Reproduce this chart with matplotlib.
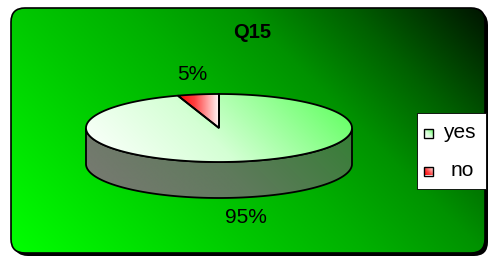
import numpy as np
import matplotlib.pyplot as plt
from matplotlib.patches import Polygon, FancyBboxPatch, Rectangle
from matplotlib.colors import LinearSegmentedColormap

plt.rcParams['font.family'] = ['Liberation Sans', 'DejaVu Sans']

# data
labels = ['yes', 'no']
values = [95, 5]
title = 'Q15'

# colour ramps
top_colors = [[(0, '#ffffff'), (0.45, '#d4ffd4'), (1, '#58ff58')],
              [(0, '#ff0000'), (0.4, '#ff4040'), (1, '#ffffff')]]
side_colors = [(0, '#7a7a74'), (0.5, '#5f7a5c'), (1, '#357f35')]
bg_colors = [(0, '#00ff00'), (0.34, '#00c800'), (0.5, '#00b000'),
             (0.66, '#009200'), (0.81, '#006000'), (1, '#001600')]

W, H = 489, 262
fig = plt.figure(figsize=(W / 100, H / 100), dpi=100)
ax = fig.add_axes([0, 0, 1, 1])
ax.axis('off')


def grad_fill(patch, x0, x1, y0, y1, colors, z, diag=True):
    # 45 degree gradient in pixel space, bottom-left -> top-right
    xx, yy = np.meshgrid(np.linspace(x0, x1, 300), np.linspace(y0, y1, 300))
    if diag:
        t = ((xx - x0) + (y1 - yy)) / ((x1 - x0) + (y1 - y0))
    else:
        t = (xx - x0) / (x1 - x0)
    cmap = LinearSegmentedColormap.from_list('g', colors)
    im = ax.imshow(t, cmap=cmap, extent=(x0, x1, y1, y0), origin='upper',
                   vmin=0, vmax=1, aspect='auto', interpolation='bilinear',
                   zorder=z)
    im.set_clip_path(patch)


# background with shadow
shadow = FancyBboxPatch((14, 11), 474, 245, boxstyle='round,pad=0,rounding_size=14',
                        fc='black', ec='none', zorder=0)
ax.add_patch(shadow)
bg = FancyBboxPatch((11, 8), 474, 245, boxstyle='round,pad=0,rounding_size=14',
                    fc='none', ec='black', lw=1.2, zorder=2)
ax.add_patch(bg)
grad_fill(bg, 11, 485, 8, 253, bg_colors, 1)

ax.text(252, 33, title, ha='center', va='center', fontsize=14.5, fontweight='bold')

# 3d pie
cx, cy, rx, ry, depth = 219, 128, 133, 34, 36
total = float(sum(values))
start = 90.0
slices = []
for v in values:
    sweep = 360.0 * v / total
    slices.append((start - sweep, start))
    start -= sweep

# side walls (front half only)
for i, (a0, a1) in enumerate(slices):
    th = np.radians(np.linspace(a0, a1, 300))
    front = th[np.sin(th) <= 0]
    if len(front) < 2:
        continue
    xs = cx + rx * np.cos(front)
    ys = cy - ry * np.sin(front)
    pts = np.vstack([np.column_stack([xs, ys]),
                     np.column_stack([xs[::-1], ys[::-1] + depth])])
    side = Polygon(pts, closed=True, fc='none', ec='black', lw=1.3, zorder=4)
    ax.add_patch(side)
    grad_fill(side, cx - rx, cx + rx, cy, cy + ry + depth, side_colors, 3)

# top faces
for i, (a0, a1) in enumerate(slices):
    th = np.radians(np.linspace(a0, a1, 300))
    pts = np.vstack([[cx, cy], np.column_stack([cx + rx * np.cos(th), cy - ry * np.sin(th)])])
    face = Polygon(pts, closed=True, fc='none', ec='black', lw=1.3, zorder=6)
    ax.add_patch(face)
    xs, ys = pts[:, 0], pts[:, 1]
    grad_fill(face, xs.min(), xs.max(), ys.min(), ys.max(), top_colors[i], 5, diag=(i == 0))

    # percentage label
    mid = np.radians((a0 + a1) / 2)
    lx = cx + 1.3 * rx * np.cos(mid)
    ly = cy - 1.6 * ry * np.sin(mid) + (depth if np.sin(mid) < 0 else 0)
    ax.text(lx, ly, '%d%%' % round(100 * values[i] / total), ha='center', va='center',
            fontsize=15)

# legend
ax.add_patch(Rectangle((417, 113), 69, 76, fc='white', ec='black', lw=0.6, zorder=7))
for i, lab in enumerate(labels):
    ym = 133 + 38 * i
    sq = Rectangle((424, ym - 4.5), 9, 9, fc='none', ec='black', lw=1.0, zorder=9)
    ax.add_patch(sq)
    grad_fill(sq, 424, 433, ym - 4.5, ym + 4.5, top_colors[i], 8)
    ax.text(443 + 8 * i, ym, lab, ha='left', va='center', fontsize=15, zorder=9)

ax.set_xlim(0, W)
ax.set_ylim(H, 0)
fig.savefig('out.png', dpi=100)
